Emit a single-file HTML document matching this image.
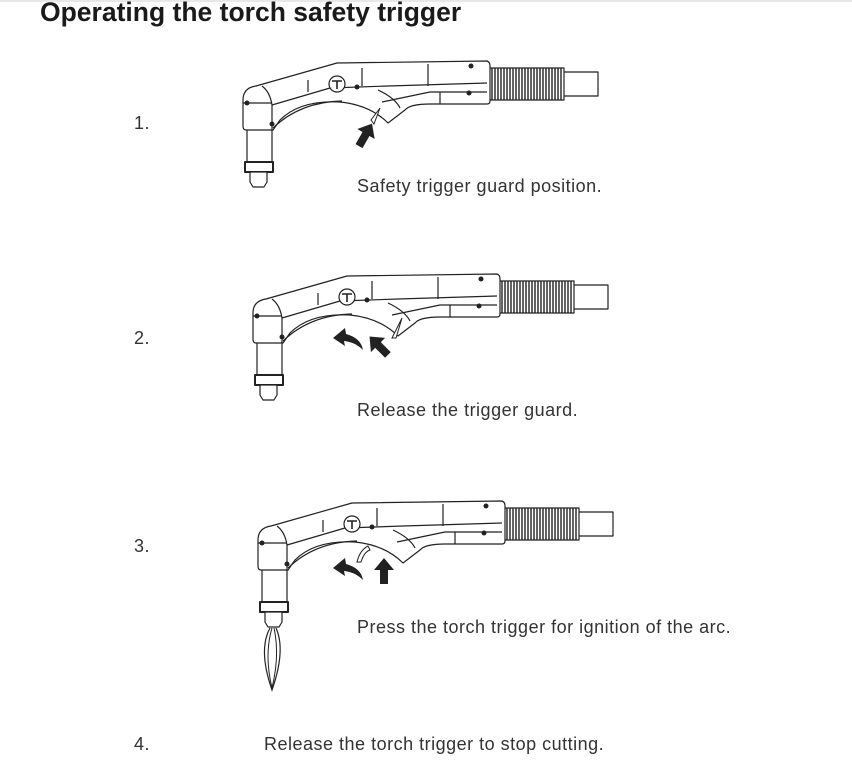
<!DOCTYPE html>
<html><head><meta charset="utf-8"><style>
html,body{margin:0;padding:0;background:#fff;}
body{width:852px;height:782px;position:relative;overflow:hidden;font-family:"Liberation Sans",sans-serif;}
.t{position:absolute;color:#333;font-size:18px;letter-spacing:0.5px;white-space:nowrap;}
h1{position:absolute;left:40px;top:-3px;margin:0;font-size:26.5px;font-weight:bold;color:#1a1a1a;white-space:nowrap;}
</style></head><body>
<div style="position:absolute;left:0;top:0;width:852px;height:2px;background:#e8e8e8"></div>
<h1>Operating the torch safety trigger</h1>
<svg width="852" height="782" style="position:absolute;left:0;top:0">
<defs>
<g id="torch" fill="#fff" stroke="#222" stroke-width="1.2" stroke-linejoin="round">
  <rect x="563" y="72" width="35" height="24" />
  <rect x="488" y="68" width="76" height="32" fill="#fff"/>
  <g stroke-width="1.4">
    <path d="M492 68V100M495 68V100M498 68V100M501 68V100M504 68V100M507 68V100M510 68V100M513 68V100M516 68V100M519 68V100M522 68V100M525 68V100M528 68V100M531 68V100M534 68V100M537 68V100M540 68V100M543 68V100M546 68V100M549 68V100M552 68V100M555 68V100M558 68V100M561 68V100"/>
  </g>
  <rect x="247" y="128" width="25" height="35"/>
  <rect x="245" y="162" width="28" height="10" stroke-width="2"/>
  <path d="M250 172h17v10l-3 5h-11l-3-5z"/>
  <path d="M243 100 Q243 88 256 86 L337 63 L487 61 Q490 62 490 66 V101 Q490 104 487 104 L430 104 Q410 104 405 110 L388 123 Q370 105 340 102 Q300 100 280 120 L273 130 L246 130 Q243 130 243 126 Z"/>
  <path d="M262 86 Q270 92 272 105 V130" fill="none"/>
  <path d="M243 103 H272" fill="none"/>
  <path d="M272 105 L330 88 L388 86 L487 83" fill="none"/>
  <path d="M382 102 L430 92 L487 92" fill="none"/>
  <path d="M378 90 Q395 98 400 108" fill="none"/>
  <path d="M273 128 Q300 102 342 101" fill="none"/>
  <path d="M308 80 V92 M362 68 V86 M428 64 V86 M440 92 V104" fill="none"/>
  <circle cx="337" cy="84" r="8"/>
  <path d="M332 81 h10 M337 81 v8" fill="none" stroke-width="1.6"/>
  <g fill="#222" stroke="none">
    <circle cx="247" cy="103" r="2.5"/><circle cx="272" cy="124" r="2.5"/>
    <circle cx="357" cy="87" r="2.5"/><circle cx="471" cy="66" r="2.5"/><circle cx="469" cy="93" r="2.5"/>
  </g>
</g>
<path id="arr" d="M0 -12 L10 0 H4 V14 H-4 V0 H-10 Z" fill="#222"/>
<path id="curv" d="M-2 -10 L-14 0 L-2 8 L-3 3 Q8 4 16 12 Q14 0 -1 -4 Z" fill="#222"/>
</defs>
<use href="#torch"/>
<path d="M380 108 L374 124 L371 120 Z" fill="#fff" stroke="#222"/>
<use href="#arr" transform="translate(366,134) rotate(30)"/>
<use href="#torch" transform="translate(10,213)"/>
<path d="M402 318 L396 338 L392 338 Z" fill="#fff" stroke="#222"/>
<use href="#curv" transform="translate(347,338)"/>
<use href="#arr" transform="translate(378,345) rotate(-45)"/>
<use href="#torch" transform="translate(15,440)"/>
<path d="M368 546 Q360 550 357 562 L361 562 Q364 552 370 550 Z" fill="#fff" stroke="#222"/>
<use href="#curv" transform="translate(347,568)"/>
<use href="#arr" transform="translate(384,570)"/>
<path d="M270 628 Q258 650 272 690 Q286 650 276 628" fill="none" stroke="#222" stroke-width="1.2"/>
<path d="M272 628 Q264 655 272 688 Q280 655 274 628" fill="none" stroke="#222" stroke-width="1"/>
</svg>
<div class="t" style="left:134px;top:113px">1.</div>
<div class="t" style="left:134px;top:328px">2.</div>
<div class="t" style="left:134px;top:536px">3.</div>
<div class="t" style="left:134px;top:734px">4.</div>
<div class="t" style="left:357px;top:176px">Safety trigger guard position.</div>
<div class="t" style="left:357px;top:400px">Release the trigger guard.</div>
<div class="t" style="left:357px;top:617px">Press the torch trigger for ignition of the arc.</div>
<div class="t" style="left:264px;top:734px">Release the torch trigger to stop cutting.</div>
</body></html>
